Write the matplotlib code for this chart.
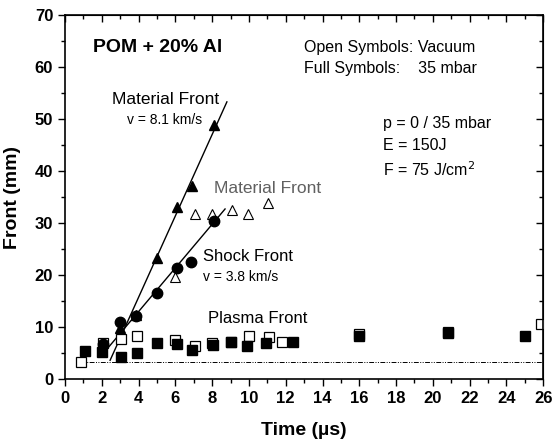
import matplotlib.pyplot as plt
from matplotlib.ticker import MultipleLocator

plt.rcParams['font.family'] = ['Liberation Sans', 'DejaVu Sans']

# material front, 35 mbar (full triangles) / vacuum (open triangles)
mat_t_full = [3.0, 3.87, 5.0, 6.1, 6.92, 8.12]
mat_y_full = [9.8, 12.3, 23.2, 33.1, 37.1, 48.8]
mat_t_open = [6.0, 7.08, 8.0, 9.1, 9.97, 11.05]
mat_y_open = [19.6, 31.7, 31.7, 32.5, 31.7, 33.9]

# shock front, 35 mbar (full circles)
shock_t = [2.07, 3.0, 3.87, 5.0, 6.1, 6.87, 8.1]
shock_y = [6.7, 11.0, 12.1, 16.5, 21.3, 22.5, 30.4]

# plasma front, vacuum (open squares) / 35 mbar (full squares)
plasma_t_open = [0.87, 2.07, 3.05, 3.9, 6.0, 7.08, 8.0, 9.0, 10.0, 11.07, 11.8, 16.0, 20.8, 25.9]
plasma_y_open = [3.3, 7.0, 7.7, 8.3, 7.5, 6.4, 7.0, 7.2, 8.3, 8.0, 7.2, 8.6, 9.0, 10.6]
plasma_t_full = [1.1, 2.0, 3.05, 3.9, 5.0, 6.1, 6.9, 8.07, 9.0, 9.87, 10.95, 12.4, 16.0, 20.8, 25.0]
plasma_y_full = [5.4, 5.2, 4.2, 5.0, 7.0, 6.7, 5.6, 6.5, 7.1, 6.3, 6.9, 7.1, 8.3, 8.9, 8.2]

# linear fits drawn in the original (v = 8.1 km/s and v = 3.8 km/s)
fit_mat_t = [2.45, 8.8]
fit_mat_y = [3.6, 53.3]
fit_shock_t = [2.1, 8.7]
fit_shock_y = [5.0, 32.7]

# baseline
base_t = [0.7, 26]
base_y = [3.3, 3.3]

fig = plt.figure(figsize=(5.56, 4.43), dpi=100)
ax = fig.add_axes([0.117, 0.1445, 0.860, 0.8215])

ax.plot(base_t, base_y, color='k', lw=0.7, dashes=[5, 1.5, 1, 1.5, 1, 1.5])
ax.plot(fit_mat_t, fit_mat_y, color='k', lw=1)
ax.plot(fit_shock_t, fit_shock_y, color='k', lw=1)

ax.plot(plasma_t_open, plasma_y_open, ls='none', marker='s', ms=6.5, mfc='white', mec='k', mew=0.9)
ax.plot(plasma_t_full, plasma_y_full, ls='none', marker='s', ms=6.5, mfc='k', mec='k')
ax.plot(mat_t_open, mat_y_open, ls='none', marker='^', ms=7.5, mfc='white', mec='k', mew=0.8)
ax.plot(mat_t_full, mat_y_full, ls='none', marker='^', ms=7.5, mfc='k', mec='k')
ax.plot(shock_t, shock_y, ls='none', marker='o', ms=7.5, mfc='k', mec='k')

ax.set_xlim(0, 26)
ax.set_ylim(0, 70)
ax.xaxis.set_major_locator(MultipleLocator(2))
ax.xaxis.set_minor_locator(MultipleLocator(1))
ax.yaxis.set_major_locator(MultipleLocator(10))
ax.yaxis.set_minor_locator(MultipleLocator(5))
ax.tick_params(which='both', direction='out', top=False, right=False, width=1)
ax.tick_params(which='major', length=5, labelsize=12)
ax.tick_params(which='minor', length=3)
for lab in ax.get_xticklabels() + ax.get_yticklabels():
    lab.set_fontweight('bold')

# inward ticks on top/right
sec_x = ax.secondary_xaxis('top')
sec_x.xaxis.set_major_locator(MultipleLocator(2))
sec_x.xaxis.set_minor_locator(MultipleLocator(1))
sec_x.tick_params(which='both', direction='in', labeltop=False, width=1)
sec_x.tick_params(which='major', length=5)
sec_x.tick_params(which='minor', length=3)
sec_y = ax.secondary_yaxis('right')
sec_y.yaxis.set_major_locator(MultipleLocator(10))
sec_y.yaxis.set_minor_locator(MultipleLocator(5))
sec_y.tick_params(which='both', direction='in', labelright=False, width=1)
sec_y.tick_params(which='major', length=5)
sec_y.tick_params(which='minor', length=3)
for s in ax.spines.values():
    s.set_linewidth(1.2)

ax.set_xlabel('Time (µs)', fontsize=14, fontweight='bold', labelpad=12)
ax.set_ylabel('Front (mm)', fontsize=14, fontweight='bold', labelpad=10)

ax.text(1.53, 63.8, 'POM + 20% Al', fontsize=14, fontweight='bold', va='center')
ax.text(12.97, 63.8, 'Open Symbols: Vacuum', fontsize=11.5, va='center')
ax.text(12.97, 59.8, 'Full Symbols:    35 mbar', fontsize=11.5, va='center')
ax.text(17.3, 49.2, 'p = 0 / 35 mbar', fontsize=11.5, va='center')
ax.text(17.3, 45.0, 'E = 150J', fontsize=11.5, va='center')
ax.text(17.3, 40.2, 'F = 75 J/cm$^2$', fontsize=11.5, va='center')

ax.text(8.4, 53.7, 'Material Front', fontsize=12.5, ha='right', va='center')
ax.text(7.47, 49.8, 'v = 8.1 km/s', fontsize=10, ha='right', va='center')
ax.text(8.12, 36.7, 'Material Front', fontsize=12.5, color='#606060', va='center')
ax.text(7.52, 23.5, 'Shock Front', fontsize=12, va='center')
ax.text(7.52, 19.6, 'v = 3.8 km/s', fontsize=10, va='center')
ax.text(7.8, 11.7, 'Plasma Front', fontsize=12, va='center')

fig.savefig('out.png', dpi=100)
